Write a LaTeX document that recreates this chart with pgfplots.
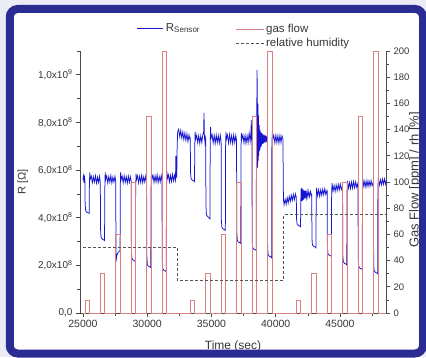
\documentclass[border=0pt]{standalone}
\usepackage{fontspec}
\setmainfont{Liberation Sans}
\usepackage{pgfplots}
\pgfplotsset{compat=1.18}
\definecolor{rblue}{RGB}{20,20,210}
\definecolor{gasred}{RGB}{218,128,128}
\definecolor{humgray}{RGB}{85,85,85}
\definecolor{axgray}{RGB}{75,75,75}
\definecolor{labgray}{RGB}{55,55,55}
\definecolor{framecol}{RGB}{42,44,145}
\definecolor{bgcol}{RGB}{236,236,247}
\begin{document}
\begin{tikzpicture}
\useasboundingbox (0,0) rectangle (426pt,357pt);
\fill[bgcol] (0,0) rectangle (426pt,357pt);
\fill[white] (9.75pt,3.5pt) rectangle (422pt,348pt);
\begin{axis}[
  at={(80pt,44pt)}, anchor=south west,
  scale only axis, width=306pt, height=262pt,
  xmin=24770, xmax=48580, ymin=0, ymax=11,
  clip=false,
  axis x line*=bottom, axis y line*=left,
  axis line style={draw=axgray, line width=0.8pt, -},
  every tick/.style={draw=axgray, line width=0.7pt},
  tick align=outside,
  major tick length=4pt, minor tick length=2.5pt,
  xtick={25000,30000,35000,40000,45000,50000}, minor x tick num=1,
  ytick={0,2,4,6,8,10,12}, minor y tick num=1,
  yticklabels={{0,0},{2,0x10\textsuperscript{8}},{4,0x10\textsuperscript{8}},{6,0x10\textsuperscript{8}},{8,0x10\textsuperscript{8}},{1,0x10\textsuperscript{9}},{}},
  scaled x ticks=false,
  /pgf/number format/assume math mode=true,
  /pgf/number format/1000 sep={},
  xticklabel style={font=\fontsize{10.5}{12}\selectfont, text=labgray},
  yticklabel style={font=\fontsize{10}{12}\selectfont, text=labgray},
  xlabel={Time (sec)}, ylabel={R [Ω]},
  xlabel style={at={(axis description cs:0.5,-0.126)}, anchor=center, font=\fontsize{12}{14}\selectfont, text=labgray},
  ylabel style={at={(axis description cs:-0.187,0.5)}, anchor=center, font=\fontsize{11}{13}\selectfont, text=labgray},
  legend style={draw=none, fill=none, at={(axis description cs:0.186,1.088)}, anchor=west, font=\fontsize{11.5}{13}\selectfont, inner sep=0pt, text=labgray},
  legend image code/.code={\draw[#1] (0pt,0pt) -- (26pt,0pt);},
]
\addplot[rblue, line width=0.75pt] coordinates {
(25000,5.58) (25040,5.74) (25080,5.47) (25120,5.70)
(25150,5.55) (25170,4.6) (25210,4.3) (25300,4.23) (25420,4.2) (25480,4.18) (25500,5.3) (25530,5.9) (25570,5.62)
(25650,5.75) (25730,5.47) (25810,5.72) (25890,5.50) (25970,5.76) (26050,5.45) (26130,5.70) (26210,5.48) (26290,5.74) (26340,5.52)
(26350,5.52) (26370,3.5) (26410,3.18) (26500,3.1) (26620,3.07) (26680,3.04) (26700,5.2) (26730,5.9) (26770,5.6)
(26850,5.76) (26930,5.46) (27010,5.73) (27090,5.49) (27170,5.77) (27250,5.45) (27330,5.71) (27410,5.50) (27490,5.74) (27540,5.55)
(27550,5.55) (27570,2.6) (27600,2.28) (27650,2.45) (27750,2.55) (27850,2.6) (27890,2.62) (27900,5.2) (27930,5.9) (27970,5.6)
(28050,5.75) (28130,5.47) (28210,5.76) (28290,5.49) (28370,5.72) (28450,5.45) (28530,5.75) (28610,5.48) (28690,5.72) (28740,5.56)
(28750,5.55) (28770,2.6) (28810,2.3) (28900,2.22) (29020,2.19) (29080,2.16) (29100,5.2) (29130,5.85) (29170,5.6)
(29250,5.76) (29330,5.46) (29410,5.74) (29490,5.49) (29570,5.78) (29650,5.47) (29730,5.72) (29810,5.50) (29890,5.76) (29940,5.57)
(29950,5.55) (29970,2.4) (30010,2.03) (30100,1.96) (30220,1.93) (30280,1.91) (30300,5.2) (30330,5.9) (30370,5.62)
(30450,5.78) (30530,5.48) (30610,5.76) (30690,5.50) (30770,5.80) (30850,5.48) (30930,5.74) (31010,5.51) (31090,5.78) (31140,5.58)
(31150,5.57) (31170,2.2) (31210,1.86) (31300,1.79) (31420,1.76) (31480,1.74) (31500,5.2) (31530,5.95) (31570,5.65)
(31650,5.80) (31730,5.50) (31810,5.78) (31890,5.52) (31970,5.82) (32050,5.54) (32120,5.78) (32200,5.58) (32230,6.6) (32260,5.75) (32300,5.7) (32330,7.0) (32370,7.6)
(32450,7.72) (32530,7.40) (32610,7.66) (32690,7.34) (32770,7.60) (32850,7.28) (32930,7.56) (33010,7.24) (33090,7.52) (33170,7.20) (33250,7.48) (33330,7.26)
(33350,7.3) (33370,5.9) (33410,5.65) (33500,5.58) (33620,5.55) (33680,5.52) (33700,7.0) (33730,7.6) (33770,7.3)
(33850,7.46) (33930,7.15) (34010,7.45) (34090,7.12) (34170,7.44) (34250,7.16) (34330,7.48) (34390,7.6) (34420,8.4) (34450,7.4) (34500,7.15) (34540,7.35)
(34550,7.3) (34570,4.5) (34610,4.12) (34700,4.05) (34820,4.0) (34880,3.95) (34900,7.0) (34930,7.8) (34970,7.35)
(35050,7.48) (35130,7.14) (35210,7.46) (35290,7.12) (35370,7.47) (35450,7.15) (35530,7.45) (35610,7.13) (35690,7.46) (35740,7.25)
(35750,7.3) (35770,3.9) (35810,3.6) (35900,3.53) (36020,3.5) (36080,3.47) (36100,7.0) (36130,7.6) (36170,7.3)
(36250,7.47) (36330,7.14) (36410,7.50) (36490,7.15) (36570,7.45) (36650,7.12) (36730,7.48) (36810,7.16) (36890,7.46) (36940,7.25)
(36950,7.3) (36970,3.4) (37010,3.05) (37100,2.98) (37220,2.95) (37280,2.92) (37300,7.0) (37330,7.55) (37370,7.3)
(37450,7.47) (37530,7.14) (37610,7.46) (37690,7.12) (37770,7.45) (37850,7.15) (37930,7.55) (38010,7.2) (38070,7.6) (38100,8.1) (38120,7.3) (38140,7.2)
(38150,7.3) (38170,3.0) (38210,2.75) (38300,2.68) (38420,2.65) (38480,2.62) (38500,7.0)
(38520,8.2) (38550,10.2) (38570,7.0) (38590,6.1) (38610,8.8) (38630,6.4) (38650,8.3) (38680,6.6) (38710,7.9) (38740,6.8) (38770,7.7) (38800,6.9) (38840,7.6) (38880,7.0) (38920,7.55) (38960,7.1) (39000,7.5) (39050,7.12) (39100,7.48) (39150,7.15) (39200,7.46) (39260,7.16) (39300,7.44) (39340,7.25)
(39350,7.3) (39370,2.7) (39410,2.45) (39500,2.38) (39620,2.35) (39680,2.32) (39700,7.0) (39730,7.55) (39770,7.3)
(39850,7.47) (39930,7.14) (40010,7.46) (40090,7.15) (40170,7.45) (40250,7.13) (40330,7.46) (40410,7.16) (40490,7.44) (40560,7.3)
(40600,4.75) (40650,4.55) (40730,4.78) (40810,4.56) (40890,4.84) (40970,4.62) (41050,4.90) (41130,4.68) (41210,4.94) (41290,4.72) (41370,4.98) (41450,4.76) (41530,5.0) (41590,4.86)
(41600,4.9) (41620,3.95) (41660,3.75) (41750,3.68) (41870,3.65) (41930,3.62) (41950,4.7) (41980,5.25)
(42020,4.7) (42060,5.22) (42100,4.72) (42140,5.18) (42180,4.76) (42230,5.14) (42280,4.8) (42330,5.14) (42380,4.84) (42440,5.12) (42500,4.86) (42570,5.1) (42640,4.88) (42710,5.1) (42790,4.92)
(42800,5.0) (42820,3.1) (42860,2.85) (42950,2.8) (43070,2.77) (43130,2.74) (43150,4.8) (43180,5.25)
(43260,4.92) (43340,5.18) (43420,4.9) (43500,5.17) (43580,4.94) (43660,5.2) (43740,4.96) (43820,5.22) (43900,4.98) (43990,5.15)
(44000,5.12) (44020,2.75) (44060,2.5) (44150,2.43) (44270,2.4) (44330,2.37) (44350,5.0) (44380,5.45)
(44460,5.12) (44540,5.36) (44620,5.1) (44700,5.38) (44780,5.14) (44860,5.4) (44940,5.16) (45020,5.42) (45100,5.18) (45190,5.33)
(45200,5.3) (45220,2.4) (45260,2.15) (45350,2.08) (45470,2.05) (45530,2.02) (45550,5.1) (45580,5.55)
(45660,5.24) (45740,5.48) (45820,5.22) (45900,5.5) (45980,5.24) (46060,5.52) (46140,5.26) (46220,5.51) (46300,5.28) (46390,5.44)
(46400,5.4) (46420,2.2) (46460,1.95) (46550,1.88) (46670,1.85) (46730,1.82) (46750,5.2) (46780,5.62)
(46860,5.3) (46940,5.54) (47020,5.28) (47100,5.56) (47180,5.31) (47260,5.55) (47340,5.32) (47420,5.56) (47500,5.34) (47590,5.48)
(47600,5.45) (47620,2.0) (47660,1.78) (47750,1.71) (47870,1.68) (47930,1.65) (47950,5.2) (47980,5.62)
(48060,5.36) (48140,5.6) (48220,5.38) (48300,5.62) (48380,5.4) (48460,5.63) (48540,5.42) (48580,5.55)
};
\addlegendentry{R\textsubscript{Sensor}}
\end{axis}
\begin{axis}[
  at={(80pt,44pt)}, anchor=south west,
  scale only axis, width=306pt, height=262pt,
  xmin=24770, xmax=48580, ymin=0, ymax=200,
  clip=false,
  axis x line=none, axis y line*=right,
  axis line style={draw=axgray, line width=0.8pt, -},
  every tick/.style={draw=axgray, line width=0.7pt},
  tick align=outside,
  major tick length=4pt, minor tick length=2.5pt,
  ytick={0,20,...,200}, minor y tick num=1,
  /pgf/number format/assume math mode=true,
  yticklabel style={font=\fontsize{9.5}{11}\selectfont, text=labgray},
  ylabel={Gas Flow [ppm] / rh [\%]},
  ylabel style={at={(axis description cs:1.096,0.508)}, anchor=center, font=\fontsize{13}{15}\selectfont, text=labgray},
  legend style={draw=none, fill=none, at={(axis description cs:0.507,1.11)}, anchor=north west, font=\fontsize{11.5}{13}\selectfont, inner sep=0pt, text=labgray, row sep=0pt},
  legend cell align=left,
  legend image code/.code={\draw[#1] (0pt,0pt) -- (28pt,0pt);},
]
\addplot[gasred, line width=0.75pt] coordinates {
(25000,0) (25150,0) (25150,10) (25500,10) (25500,0) (26350,0) (26350,30) (26700,30) (26700,0) (27550,0) (27550,60) (27900,60) (27900,0) (28750,0) (28750,100) (29100,100) (29100,0) (29950,0) (29950,150) (30300,150) (30300,0) (31150,0) (31150,200) (31500,200) (31500,0)
(33350,0) (33350,10) (33700,10) (33700,0) (34550,0) (34550,30) (34900,30) (34900,0) (35750,0) (35750,60) (36100,60) (36100,0) (36950,0) (36950,100) (37300,100) (37300,0) (38150,0) (38150,150) (38500,150) (38500,0) (39350,0) (39350,200) (39700,200) (39700,0)
(41600,0) (41600,10) (41950,10) (41950,0) (42800,0) (42800,30) (43150,30) (43150,0) (44000,0) (44000,60) (44350,60) (44350,0) (45200,0) (45200,100) (45550,100) (45550,0) (46400,0) (46400,150) (46750,150) (46750,0) (47600,0) (47600,200) (47950,200) (47950,0) (48580,0)
};
\addlegendentry{gas flow}
\addplot[humgray, line width=0.8pt, dash pattern=on 3pt off 2pt] coordinates {
(25000,50) (32320,50) (32320,25) (40620,25) (40620,75) (48580,75)
};
\addlegendentry{relative humidity}
\end{axis}
\draw[framecol, line width=8pt, rounded corners=8pt] (9.75pt,3.5pt) rectangle (423pt,348pt);
\end{tikzpicture}
\end{document}
